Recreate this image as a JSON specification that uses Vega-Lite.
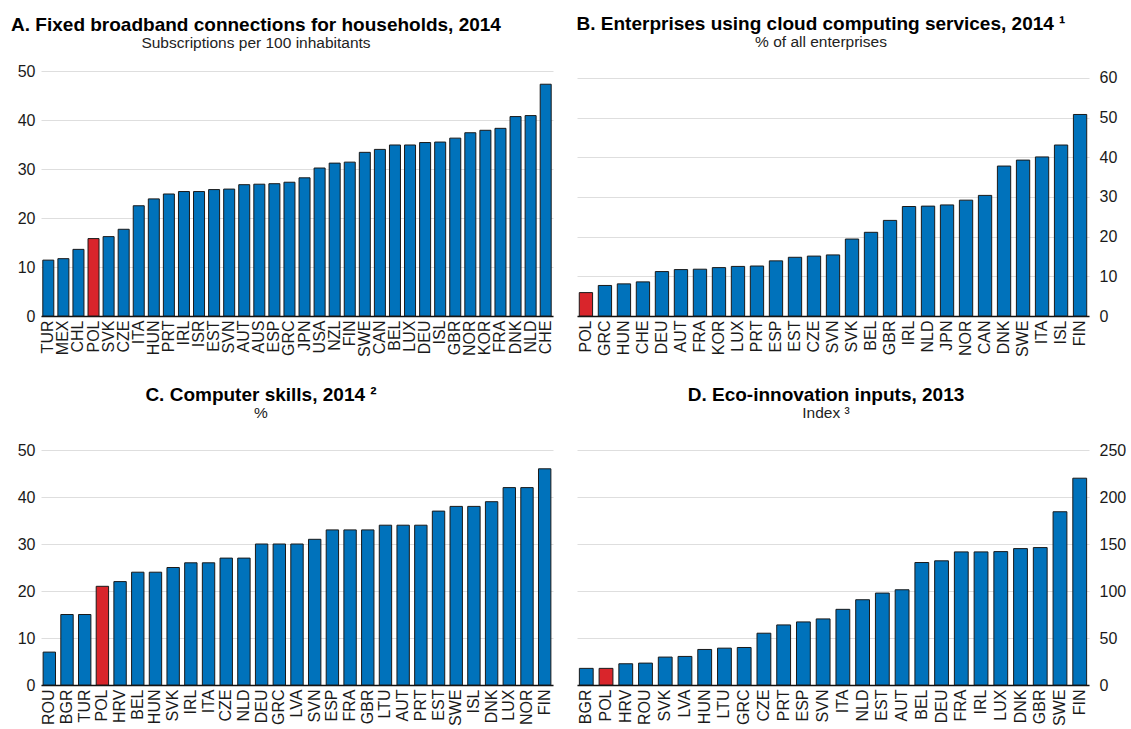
{
  "$schema": "https://vega.github.io/schema/vega-lite/v6.json",
  "background": "white",
  "autosize": {"type": "pad"},
  "padding": {"left": 11, "top": 15, "right": 0, "bottom": 0},
  "datasets": {
    "a": [
      {"country": "TUR", "value": 11.4}, {"country": "MEX", "value": 11.7}, {"country": "CHL", "value": 13.6},
      {"country": "POL", "value": 15.8}, {"country": "SVK", "value": 16.2}, {"country": "CZE", "value": 17.7},
      {"country": "ITA", "value": 22.5}, {"country": "HUN", "value": 23.9}, {"country": "PRT", "value": 24.9},
      {"country": "IRL", "value": 25.4}, {"country": "ISR", "value": 25.4}, {"country": "EST", "value": 25.8},
      {"country": "SVN", "value": 25.9}, {"country": "AUT", "value": 26.8}, {"country": "AUS", "value": 26.9},
      {"country": "ESP", "value": 27.0}, {"country": "GRC", "value": 27.3}, {"country": "JPN", "value": 28.2},
      {"country": "USA", "value": 30.2}, {"country": "NZL", "value": 31.2}, {"country": "FIN", "value": 31.4},
      {"country": "SWE", "value": 33.4}, {"country": "CAN", "value": 34.0}, {"country": "BEL", "value": 34.9},
      {"country": "LUX", "value": 34.9}, {"country": "DEU", "value": 35.4}, {"country": "ISL", "value": 35.5},
      {"country": "GBR", "value": 36.3}, {"country": "NOR", "value": 37.4}, {"country": "KOR", "value": 37.9},
      {"country": "FRA", "value": 38.3}, {"country": "DNK", "value": 40.7}, {"country": "NLD", "value": 40.9},
      {"country": "CHE", "value": 47.3}
    ],
    "b": [
      {"country": "POL", "value": 5.9}, {"country": "GRC", "value": 7.7}, {"country": "HUN", "value": 8.1},
      {"country": "CHE", "value": 8.6}, {"country": "DEU", "value": 11.2}, {"country": "AUT", "value": 11.7},
      {"country": "FRA", "value": 11.8}, {"country": "KOR", "value": 12.2}, {"country": "LUX", "value": 12.5},
      {"country": "PRT", "value": 12.6}, {"country": "ESP", "value": 13.9}, {"country": "EST", "value": 14.8},
      {"country": "CZE", "value": 15.1}, {"country": "SVN", "value": 15.4}, {"country": "SVK", "value": 19.4},
      {"country": "BEL", "value": 21.1}, {"country": "GBR", "value": 24.1}, {"country": "IRL", "value": 27.6},
      {"country": "NLD", "value": 27.7}, {"country": "JPN", "value": 28.0}, {"country": "NOR", "value": 29.2},
      {"country": "CAN", "value": 30.4}, {"country": "DNK", "value": 37.8}, {"country": "SWE", "value": 39.3},
      {"country": "ITA", "value": 40.1}, {"country": "ISL", "value": 43.1}, {"country": "FIN", "value": 50.8}
    ],
    "c": [
      {"country": "ROU", "value": 7}, {"country": "BGR", "value": 15}, {"country": "TUR", "value": 15},
      {"country": "POL", "value": 21}, {"country": "HRV", "value": 22}, {"country": "BEL", "value": 24},
      {"country": "HUN", "value": 24}, {"country": "SVK", "value": 25}, {"country": "IRL", "value": 26},
      {"country": "ITA", "value": 26}, {"country": "CZE", "value": 27}, {"country": "NLD", "value": 27},
      {"country": "DEU", "value": 30}, {"country": "GRC", "value": 30}, {"country": "LVA", "value": 30},
      {"country": "SVN", "value": 31}, {"country": "ESP", "value": 33}, {"country": "FRA", "value": 33},
      {"country": "GBR", "value": 33}, {"country": "LTU", "value": 34}, {"country": "AUT", "value": 34},
      {"country": "PRT", "value": 34}, {"country": "EST", "value": 37}, {"country": "SWE", "value": 38},
      {"country": "ISL", "value": 38}, {"country": "DNK", "value": 39}, {"country": "LUX", "value": 42},
      {"country": "NOR", "value": 42}, {"country": "FIN", "value": 46}
    ],
    "d": [
      {"country": "BGR", "value": 17.7}, {"country": "POL", "value": 17.7}, {"country": "HRV", "value": 22.6},
      {"country": "ROU", "value": 23.3}, {"country": "SVK", "value": 29.7}, {"country": "LVA", "value": 30.4},
      {"country": "HUN", "value": 37.8}, {"country": "LTU", "value": 39.2}, {"country": "GRC", "value": 39.9},
      {"country": "CZE", "value": 55.1}, {"country": "PRT", "value": 63.9}, {"country": "ESP", "value": 67.1},
      {"country": "SVN", "value": 70.3}, {"country": "ITA", "value": 80.5}, {"country": "NLD", "value": 90.7},
      {"country": "EST", "value": 97.8}, {"country": "AUT", "value": 101.3}, {"country": "BEL", "value": 130.3},
      {"country": "DEU", "value": 132.1}, {"country": "FRA", "value": 141.6}, {"country": "IRL", "value": 141.6},
      {"country": "LUX", "value": 141.9}, {"country": "DNK", "value": 145.1}, {"country": "GBR", "value": 146.2},
      {"country": "SWE", "value": 184.3}, {"country": "FIN", "value": 220.0}
    ]
  },
  "config": {
    "font": "Liberation Sans",
    "view": {"stroke": null},
    "axis": {
      "labelFont": "Liberation Sans",
      "labelFontSize": 16,
      "labelColor": "#1a1a1a",
      "title": null,
      "ticks": false
    },
    "axisX": {
      "labelAngle": -90,
      "labelPadding": 4,
      "domainColor": "#111111",
      "domainWidth": 1.5,
      "grid": false
    },
    "axisY": {
      "domain": false,
      "grid": true,
      "gridColor": "#dedede",
      "gridWidth": 1,
      "labelPadding": 6
    },
    "title": {
      "font": "Liberation Sans",
      "fontSize": 19,
      "fontWeight": "bold",
      "color": "#000000",
      "subtitleFont": "Liberation Sans",
      "subtitleFontSize": 15.5,
      "subtitleColor": "#222222",
      "subtitlePadding": 1,
      "anchor": "middle"
    },
    "bar": {"stroke": "#1a1a1a", "strokeWidth": 1}
  },
  "bounds": "flush",
  "columns": 2,
  "spacing": {"row": 134, "column": 24},
  "concat": [
    {
      "data": {"name": "a"},
      "width": 512,
      "height": 245,
      "title": {"text": "A. Fixed broadband connections for households, 2014", "subtitle": "Subscriptions per 100 inhabitants", "offset": 12, "dx": -41},
      "mark": {"type": "bar"},
      "encoding": {
        "x": {"field": "country", "type": "nominal", "sort": null, "scale": {"paddingInner": 0.27, "paddingOuter": 0.12}},
        "y": {"field": "value", "type": "quantitative", "scale": {"domain": [0, 50], "nice": false}, "axis": {"values": [0, 10, 20, 30, 40, 50]}},
        "color": {"condition": {"test": "datum.country === 'POL'", "value": "#d9252b"}, "value": "#0072bb"}
      }
    },
    {
      "data": {"name": "b"},
      "width": 512,
      "height": 245,
      "title": {"text": "B. Enterprises using cloud computing services, 2014 ¹", "subtitle": "% of all enterprises", "offset": 19, "dx": -12},
      "mark": {"type": "bar"},
      "encoding": {
        "x": {"field": "country", "type": "nominal", "sort": null, "scale": {"paddingInner": 0.3, "paddingOuter": 0.12}},
        "y": {"field": "value", "type": "quantitative", "scale": {"domain": [0, 61.76], "nice": false}, "axis": {"orient": "right", "values": [0, 10, 20, 30, 40, 50, 60], "labelPadding": 10}},
        "color": {"condition": {"test": "datum.country === 'POL'", "value": "#d9252b"}, "value": "#0072bb"}
      }
    },
    {
      "data": {"name": "c"},
      "width": 512,
      "height": 235,
      "title": {"text": "C. Computer skills, 2014 ²", "subtitle": "%", "offset": 21, "dx": -36},
      "mark": {"type": "bar"},
      "encoding": {
        "x": {"field": "country", "type": "nominal", "sort": null, "scale": {"paddingInner": 0.3, "paddingOuter": 0.12}},
        "y": {"field": "value", "type": "quantitative", "scale": {"domain": [0, 50], "nice": false}, "axis": {"values": [0, 10, 20, 30, 40, 50]}},
        "color": {"condition": {"test": "datum.country === 'POL'", "value": "#d9252b"}, "value": "#0072bb"}
      }
    },
    {
      "data": {"name": "d"},
      "width": 512,
      "height": 235,
      "title": {"text": "D. Eco-innovation inputs, 2013", "subtitle": "Index ³", "offset": 21, "dx": -7},
      "mark": {"type": "bar"},
      "encoding": {
        "x": {"field": "country", "type": "nominal", "sort": null, "scale": {"paddingInner": 0.3, "paddingOuter": 0.12}},
        "y": {"field": "value", "type": "quantitative", "scale": {"domain": [0, 250], "nice": false}, "axis": {"orient": "right", "values": [0, 50, 100, 150, 200, 250], "labelPadding": 10}},
        "color": {"condition": {"test": "datum.country === 'POL'", "value": "#d9252b"}, "value": "#0072bb"}
      }
    }
  ]
}
